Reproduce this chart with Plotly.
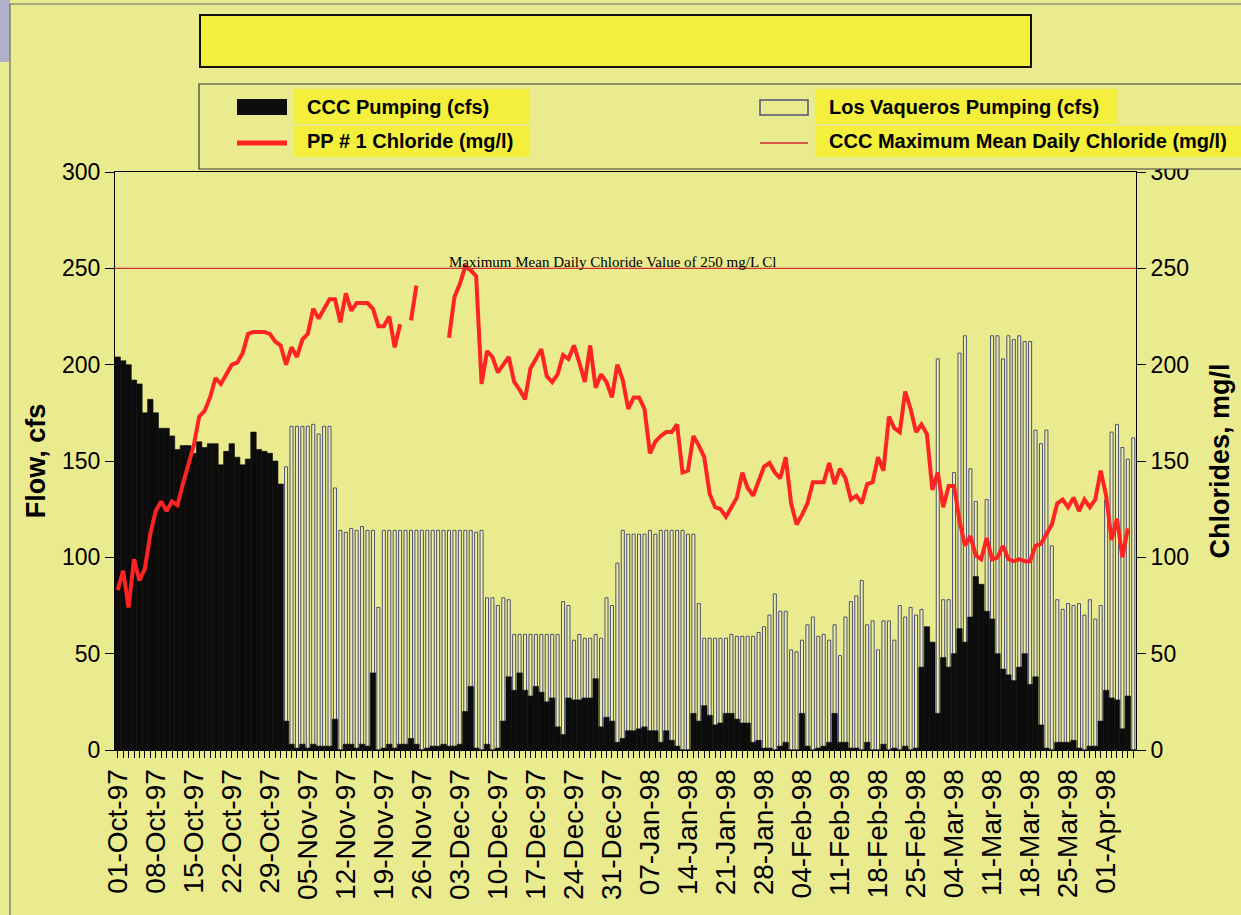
import plotly.graph_objects as go
import pandas as pd

# ---------------- data ----------------
START_DATE = "1997-10-01"

# CCC Pumping (cfs), one value per day from 01-Oct-97
ccc_pumping = [
    204, 202, 200, 192, 190, 175, 182, 175, 167, 167,
    163, 156, 158, 158, 154, 160, 157, 159, 159, 148,
    155, 159, 152, 148, 151, 165, 156, 155, 154, 150,
    138, 15, 3, 1, 3, 1, 3, 2, 2, 2,
    16, 0, 3, 3, 1, 3, 2, 40, 0, 1,
    3, 1, 3, 3, 6, 3, 0, 1, 2, 2,
    3, 2, 2, 3, 20, 33, 1, 0, 3, 0,
    1, 15, 38, 31, 40, 31, 28, 33, 30, 25,
    27, 12, 8, 27, 26, 26, 27, 27, 37, 12,
    17, 15, 4, 6, 10, 10, 11, 12, 10, 10,
    4, 10, 5, 2, 0, 0, 19, 15, 23, 18,
    13, 14, 19, 19, 16, 14, 14, 4, 5, 1,
    1, 0, 2, 4, 0, 0, 19, 2, 0, 1,
    2, 4, 19, 4, 4, 1, 1, 0, 4, 0,
    0, 3, 0, 1, 0, 2, 0, 1, 43, 64,
    56, 19, 48, 43, 50, 63, 56, 69, 90, 86,
    72, 68, 50, 42, 39, 36, 43, 50, 34, 38,
    13, 1, 0, 4, 4, 4, 5, 1, 0, 2,
    2, 15, 31, 27, 26, 11, 28, 0,
]

# Los Vaqueros Pumping (cfs)
lv_pumping = [
    0, 0, 0, 0, 0, 0, 0, 0, 0, 0,
    0, 0, 0, 0, 0, 0, 0, 0, 0, 0,
    0, 0, 0, 0, 0, 0, 0, 0, 0, 0,
    0, 147, 168, 168, 168, 168, 169, 164, 168, 168,
    136, 114, 113, 115, 114, 116, 114, 114, 74, 114,
    114, 114, 114, 114, 114, 114, 114, 114, 114, 114,
    114, 114, 114, 114, 114, 114, 113, 114, 79, 79,
    75, 79, 78, 60, 60, 60, 60, 60, 60, 60,
    60, 60, 77, 75, 57, 60, 58, 58, 60, 58,
    79, 75, 97, 114, 112, 112, 112, 112, 114, 112,
    114, 114, 114, 114, 114, 112, 112, 76, 58, 58,
    58, 58, 58, 60, 59, 59, 59, 59, 61, 64,
    70, 81, 72, 72, 52, 51, 57, 65, 69, 59,
    60, 57, 65, 49, 69, 77, 80, 88, 65, 67,
    52, 67, 67, 57, 75, 69, 74, 70, 73, 0,
    0, 203, 78, 78, 144, 206, 215, 146, 129, 0,
    130, 215, 215, 203, 215, 213, 215, 212, 212, 166,
    159, 166, 106, 78, 73, 76, 75, 76, 70, 78,
    68, 75, 130, 165, 169, 157, 151, 162,
]

# PP # 1 Chloride (mg/l); None = no reading
pp1_chloride = [
    83, 93, 74, 99, 88, 94, 112, 124, 129, 124,
    129, 127, 138, 148, 158, 173, 176, 183, 193, 190,
    195, 200, 201, 206, 216, 217, 217, 217, 216, 212,
    210, 200, 209, 204, 213, 216, 229, 224, 229, 234,
    234, 222, 237, 228, 232, 232, 232, 229, 220, 220,
    225, 209, 221, None, 223, 241, None, None, None, None,
    None, 214, 235, 242, 251, 249, 246, 190, 207, 204,
    196, 200, 204, 191, 187, 182, 198, 203, 208, 194,
    191, 195, 205, 203, 210, 201, 191, 210, 188, 195,
    191, 183, 200, 192, 177, 183, 183, 177, 154, 160,
    163, 165, 165, 169, 144, 145, 163, 158, 152, 133,
    126, 125, 121, 126, 131, 144, 136, 132, 139, 147,
    149, 144, 141, 152, 128, 117, 122, 128, 139, 139,
    139, 149, 138, 146, 141, 130, 132, 128, 138, 139,
    152, 145, 173, 167, 165, 186, 177, 165, 169, 164,
    135, 144, 126, 137, 137, 119, 106, 111, 101, 99,
    110, 99, 100, 106, 99, 98, 99, 98, 98, 106,
    107, 112, 117, 128, 130, 126, 131, 124, 130, 126,
    130, 145, 132, 109, 120, 100, 115, None,
]

MAX_CHLORIDE = 250  # CCC maximum mean daily chloride (mg/l)

tick_labels = [
    "01-Oct-97", "08-Oct-97", "15-Oct-97", "22-Oct-97", "29-Oct-97",
    "05-Nov-97", "12-Nov-97", "19-Nov-97", "26-Nov-97",
    "03-Dec-97", "10-Dec-97", "17-Dec-97", "24-Dec-97", "31-Dec-97",
    "07-Jan-98", "14-Jan-98", "21-Jan-98", "28-Jan-98",
    "04-Feb-98", "11-Feb-98", "18-Feb-98", "25-Feb-98",
    "04-Mar-98", "11-Mar-98", "18-Mar-98", "25-Mar-98", "01-Apr-98",
]
y_ticks = [0, 50, 100, 150, 200, 250, 300]

legend_labels = [
    "CCC Pumping (cfs)",
    "PP # 1 Chloride (mg/l)",
    "Los Vaqueros Pumping (cfs)",
    "CCC Maximum Mean Daily Chloride (mg/l)",
]
max_note = "Maximum Mean Daily Chloride Value of 250 mg/L Cl"

# ---------------- styling ----------------
DAY_MS = 86400000
BG = "#EAEA8E"
HIGHLIGHT = "#F3EF3C"
RED = "#FF2424"
SANS = "Liberation Sans, Arial, sans-serif"

W, H = 1241, 915
PL, PR, PT, PB = 115, 1136, 172, 750  # plot area in pixels


def fx(px):
    return (px - PL) / (PR - PL)


def fy(py):
    return (PB - py) / (PB - PT)


dates = pd.date_range(START_DATE, periods=len(ccc_pumping), freq="D")
tick_vals = list(dates[::7][: len(tick_labels)])
x_range = [dates[0] - pd.Timedelta(hours=12), dates[-1] + pd.Timedelta(hours=12)]

fig = go.Figure()
fig.add_trace(go.Bar(
    x=dates, y=lv_pumping, name=legend_labels[2], width=0.56 * DAY_MS,
    marker=dict(color="rgba(250,250,215,0.30)", line=dict(color="#4d5278", width=1)),
    yaxis="y",
))
fig.add_trace(go.Bar(
    x=dates, y=ccc_pumping, name=legend_labels[0], width=DAY_MS,
    marker=dict(color="#0c0c0c", line=dict(color="#0c0c0c", width=0.6)),
    yaxis="y",
))
fig.add_trace(go.Scatter(
    x=dates, y=pp1_chloride, name=legend_labels[1], mode="lines",
    line=dict(color=RED, width=4), connectgaps=False, yaxis="y2",
))

shapes = []
annotations = []

# outer scan frame
shapes.append(dict(type="rect", xref="paper", yref="paper", layer="above",
                   x0=fx(0), x1=fx(10), y0=fy(0), y1=fy(62),
                   fillcolor="#aeb1c8", line=dict(width=0)))
shapes.append(dict(type="rect", xref="paper", yref="paper", layer="above",
                   x0=fx(10), x1=fx(1260), y0=fy(4), y1=fy(930),
                   fillcolor="rgba(0,0,0,0)", line=dict(color="#6b6b6b", width=1.2)))
# empty title box
shapes.append(dict(type="rect", xref="paper", yref="paper", layer="above",
                   x0=fx(200), x1=fx(1031), y0=fy(67), y1=fy(15),
                   fillcolor=HIGHLIGHT, line=dict(color="#111111", width=2)))
# legend box
shapes.append(dict(type="rect", xref="paper", yref="paper", layer="above",
                   x0=fx(199), x1=fx(1262), y0=fy(169), y1=fy(84),
                   fillcolor=BG, line=dict(color="#3a3a3a", width=1.2)))
# highlights behind legend texts
for (x0, x1, y0, y1) in [(294, 530, 89, 124), (294, 530, 126, 157),
                         (815, 1118, 89, 124), (815, 1262, 126, 157)]:
    shapes.append(dict(type="rect", xref="paper", yref="paper", layer="above",
                       x0=fx(x0), x1=fx(x1), y0=fy(y1), y1=fy(y0),
                       fillcolor=HIGHLIGHT, line=dict(width=0)))
# legend symbols
shapes.append(dict(type="rect", xref="paper", yref="paper", layer="above",
                   x0=fx(237), x1=fx(287), y0=fy(115), y1=fy(99),
                   fillcolor="#0c0c0c", line=dict(width=0)))
shapes.append(dict(type="line", xref="paper", yref="paper", layer="above",
                   x0=fx(237), x1=fx(287), y0=fy(143), y1=fy(143),
                   line=dict(color=RED, width=5)))
shapes.append(dict(type="rect", xref="paper", yref="paper", layer="above",
                   x0=fx(760), x1=fx(808), y0=fy(115), y1=fy(100),
                   fillcolor="rgba(0,0,0,0)", line=dict(color="#4d5278", width=1.5)))
shapes.append(dict(type="line", xref="paper", yref="paper", layer="above",
                   x0=fx(760), x1=fx(808), y0=fy(143), y1=fy(143),
                   line=dict(color="#d42a2a", width=1.5)))
# maximum chloride reference line
shapes.append(dict(type="line", xref="paper", yref="y2", layer="above",
                   x0=0, x1=1, y0=MAX_CHLORIDE, y1=MAX_CHLORIDE,
                   line=dict(color="#cf3030", width=1.3)))

for text, px, py in [(legend_labels[0], 305, 107), (legend_labels[1], 305, 141),
                     (legend_labels[2], 827, 107), (legend_labels[3], 827, 141)]:
    annotations.append(dict(text=text, xref="paper", yref="paper", x=fx(px), y=fy(py),
                            xanchor="left", yanchor="middle", showarrow=False,
                            font=dict(family=SANS, size=20, color="black", weight="bold")))

annotations.append(dict(text=max_note, xref="paper", yref="y2", x=fx(612), y=MAX_CHLORIDE,
                        xanchor="center", yanchor="middle", yshift=6, showarrow=False,
                        font=dict(family="Liberation Serif, Times New Roman, serif",
                                  size=15, color="black")))

fig.update_layout(
    width=W, height=H,
    margin=dict(l=PL, r=W - PR, t=PT, b=H - PB, pad=0),
    paper_bgcolor=BG, plot_bgcolor=BG,
    barmode="overlay", showlegend=False,
    font=dict(family=SANS, color="black"),
    shapes=shapes, annotations=annotations,
    xaxis=dict(
        type="date", range=x_range, tickmode="array", tickvals=tick_vals,
        ticktext=tick_labels, tickangle=-90, tickfont=dict(family=SANS, size=28),
        ticks="outside", ticklen=7, tickcolor="black", showline=True,
        linecolor="black", linewidth=1, mirror=True, showgrid=False,
        zeroline=False, automargin=False,
        minor=dict(tickvals=list(dates), ticks="outside", ticklen=7,
                   tickcolor="black", showgrid=False),
    ),
    yaxis=dict(
        range=[0, 300], tickmode="array", tickvals=y_ticks, ticks="outside",
        ticklen=9, tickcolor="black", showline=True, linecolor="black",
        showgrid=False, zeroline=False, automargin=False,
        tickfont=dict(family=SANS, size=23),
        title=dict(text="Flow, cfs", standoff=8,
                   font=dict(family=SANS, size=27, weight="bold")),
    ),
    yaxis2=dict(
        overlaying="y", side="right", range=[0, 300], tickmode="array",
        tickvals=y_ticks, ticks="outside", ticklen=9, tickcolor="black",
        showline=True, linecolor="black", showgrid=False, zeroline=False,
        automargin=False, tickfont=dict(family=SANS, size=23),
        title=dict(text="Chlorides, mg/l", standoff=22,
                   font=dict(family=SANS, size=27, weight="bold")),
    ),
)

fig.write_html(
    "out.html",
    config={"displayModeBar": False},
    post_script=f"document.body.style.margin='0';document.body.style.background='{BG}';",
)
